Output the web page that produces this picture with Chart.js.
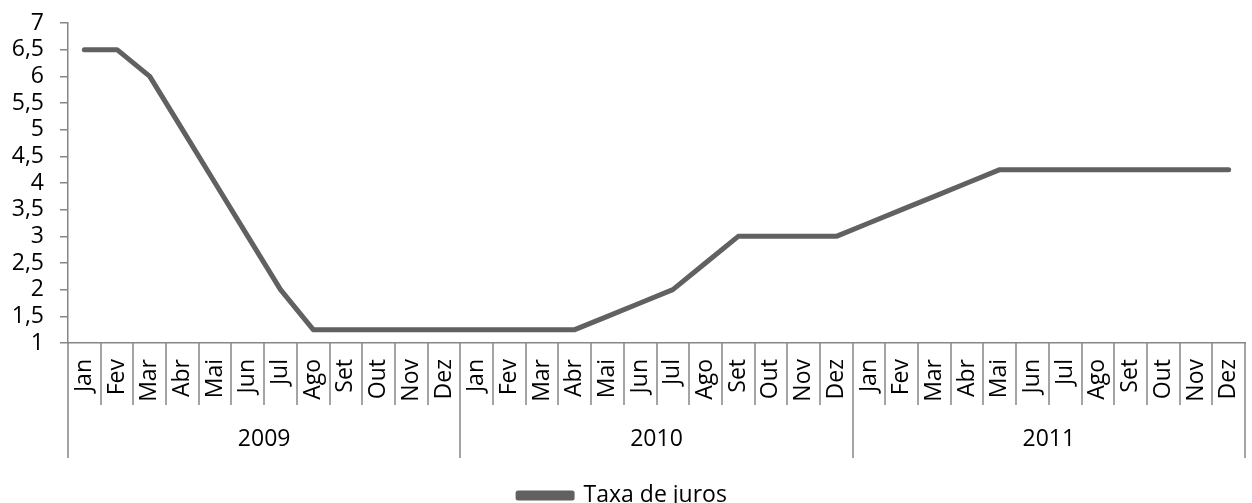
<!DOCTYPE html>
<html lang="pt">
<head>
<meta charset="utf-8">
<title>Taxa de juros</title>
<script src="https://cdn.jsdelivr.net/npm/chart.js@4/dist/chart.umd.min.js"></script>
<style>
  html, body { margin: 0; padding: 0; background: #fff; }
  canvas { display: block; }
</style>
</head>
<body>
<canvas id="juros" width="1252" height="503"></canvas>
<script>
// Dados do gráfico
const meses = ['Jan', 'Fev', 'Mar', 'Abr', 'Mai', 'Jun', 'Jul', 'Ago', 'Set', 'Out', 'Nov', 'Dez'];
const anos = ['2009', '2010', '2011'];
const taxa2009 = [6.5, 6.5, 6, 5, 4, 3, 2, 1.25, 1.25, 1.25, 1.25, 1.25];
const taxa2010 = [1.25, 1.25, 1.25, 1.25, 1.5, 1.75, 2, 2.5, 3, 3, 3, 3];
const taxa2011 = [3.25, 3.5, 3.75, 4, 4.25, 4.25, 4.25, 4.25, 4.25, 4.25, 4.25, 4.25];

const rotulos = anos.flatMap(() => meses);
const valores = [...taxa2009, ...taxa2010, ...taxa2011];

const corEixo = '#868686';

Chart.defaults.font.family = "'Open Sans', sans-serif";
Chart.defaults.color = '#000';

// Linhas separadoras abaixo do eixo x (meses e anos)
const separadores = {
    id: 'separadores',
    afterDraw(chart) {
        const x = chart.scales.x;
        const ctx = chart.ctx;
        ctx.save();
        ctx.strokeStyle = corEixo;
        ctx.lineWidth = 1.5;
        for (let i = 0; i <= rotulos.length; i++) {
            const px = Math.round(x.getPixelForValue(i - 0.5));
            const fim = (i % meses.length === 0) ? x.bottom + 53 : x.bottom;
            ctx.beginPath();
            ctx.moveTo(px, x.top);
            ctx.lineTo(px, fim);
            ctx.stroke();
        }
        ctx.restore();
    }
};

const ctx = document.getElementById('juros').getContext('2d');
const chart = new Chart(ctx, {
    type: 'line',
    data: {
        labels: rotulos,
        datasets: [{
            label: 'Taxa de juros',
            data: valores,
            borderColor: '#616161',
            backgroundColor: '#616161',
            borderWidth: 5,
            borderCapStyle: 'round',
            borderJoinStyle: 'round',
            pointRadius: 0,
            tension: 0
        }]
    },
    options: {
        responsive: false,
        animation: false,
        layout: { padding: { top: 23, right: 7, left: 0, bottom: -14 } },
        plugins: {
            tooltip: { enabled: false },
            legend: {
                position: 'bottom',
                labels: {
                    font: { size: 23 },
                    boxWidth: 54,
                    boxHeight: 5,
                    padding: 4
                }
            }
        },
        scales: {
            x: {
                type: 'category',
                offset: true,
                weight: 0,
                grid: { display: false, drawTicks: false },
                border: { display: true, color: corEixo, width: 1.5 },
                ticks: {
                    autoSkip: false,
                    minRotation: 90,
                    maxRotation: 90,
                    padding: 16,
                    font: { size: 23 }
                },
                afterFit(scale) {
                    scale.height = 62;
                    scale.paddingLeft = 0;
                    scale.paddingRight = 0;
                }
            },
            x2: {
                type: 'category',
                position: 'bottom',
                labels: anos,
                offset: true,
                weight: 1,
                grid: { display: false, drawTicks: false },
                border: { display: false },
                ticks: { padding: 21, font: { size: 23 } },
                afterFit(scale) {
                    scale.height = 75;
                    scale.paddingLeft = 0;
                    scale.paddingRight = 0;
                }
            },
            y: {
                min: 1,
                max: 7,
                grid: { drawOnChartArea: false, color: corEixo, lineWidth: 1.5, tickLength: 8 },
                border: { display: true, color: corEixo, width: 1.5 },
                ticks: {
                    stepSize: 0.5,
                    autoSkip: false,
                    padding: 16,
                    font: { size: 23 },
                    callback: v => String(v).replace('.', ',')
                },
                afterFit(scale) {
                    scale.width = 68;
                    scale.paddingTop = 0;
                    scale.paddingBottom = 0;
                }
            }
        }
    },
    plugins: [separadores]
});
</script>
</body>
</html>
